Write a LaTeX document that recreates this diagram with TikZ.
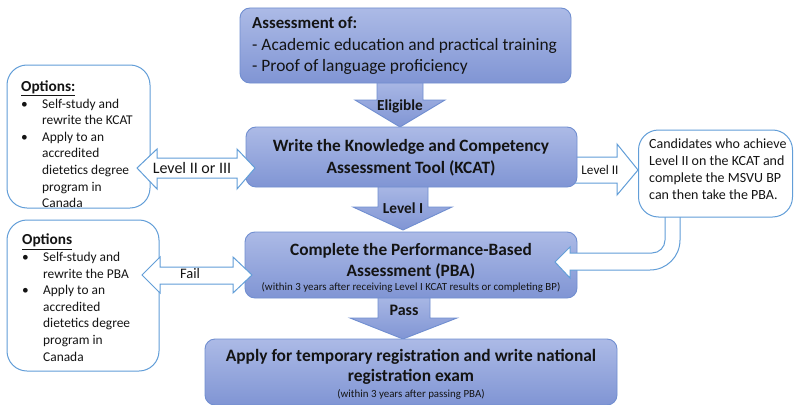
\documentclass[tikz,border=0pt]{standalone}
\usepackage{fontspec}
\setmainfont{Carlito}
\usetikzlibrary{calc}
\definecolor{btop}{RGB}{172,186,230}
\definecolor{bbot}{RGB}{128,149,212}
\definecolor{bline}{RGB}{112,142,208}
\definecolor{oline}{RGB}{98,158,216}
\definecolor{txt}{RGB}{20,20,20}
\begin{document}
\begin{tikzpicture}[x=1pt,y=-1pt,
  bluebox/.style={draw=bline, line width=0.9pt, rounded corners=10pt, top color=btop, bottom color=bbot, inner sep=0pt},
  optbox/.style={draw=oline, line width=1pt, fill=white, rounded corners=20pt, inner sep=0pt},
  bluearrow/.style={draw=bline, line width=0.9pt, top color=btop, bottom color=bbot},
  whitearrow/.style={draw=oline, line width=1pt, fill=white},
  maintxt/.style={text=txt, font=\fontsize{17.3}{21.5}\selectfont\bfseries, align=center, inner sep=0pt},
  notetxt/.style={text=txt, font=\fontsize{10.9}{12}\selectfont, inner sep=0pt},
  opttxt/.style={text=txt, font=\fontsize{13.4}{16.6}\selectfont, align=left, inner sep=0pt, anchor=north west},
  lbl/.style={text=txt, font=\fontsize{14.5}{16}\selectfont, inner sep=0pt},
  blbl/.style={text=txt, font=\fontsize{15.3}{17}\selectfont\bfseries, inner sep=0pt},
]
\useasboundingbox (0,0) rectangle (794,404);
\fill[white] (0,0) rectangle (794,404);

% down arrows (drawn first, boxes cover their ends)
\draw[bluearrow] (377,78) -- (423,78) -- (423,100) -- (445,100) -- (400,127) -- (355,100) -- (377,100) -- cycle;
\draw[bluearrow] (378,182) -- (428,182) -- (428,207) -- (452,207) -- (403,230) -- (353,207) -- (378,207) -- cycle;
\draw[bluearrow] (378,293) -- (430,293) -- (430,318) -- (457,318) -- (403,339) -- (350,318) -- (378,318) -- cycle;

% Level II arrow to the right box
\draw[whitearrow] (570,157) -- (617,157) -- (617,144) -- (638,170) -- (617,195) -- (617,183) -- (570,183) -- cycle;

% boxes
\node[bluebox, minimum width=331pt, minimum height=75pt] (assess) at (405.5,45.5) {};
\node[bluebox, minimum width=331pt, minimum height=60pt] (kcat) at (411.5,157) {};
\node[bluebox, minimum width=332pt, minimum height=66pt] (pba) at (411,265) {};
\node[bluebox, minimum width=412pt, minimum height=66pt] (final) at (411,372) {};
\node[optbox, minimum width=143pt, minimum height=143pt] (opt1) at (78.5,136.5) {};
\node[optbox, minimum width=152pt, minimum height=151pt] (opt2) at (83,295.5) {};

% bent arrow from right box to PBA
\draw[whitearrow] (665,205) -- (665,240) .. controls (665,247.2) and (659.2,253) .. (652,253) -- (570,253) -- (570,247) -- (555,262) -- (570,278) -- (570,270) -- (650,270) .. controls (666.6,270) and (680,256.6) .. (680,240) -- (680,205) -- cycle;
\node[optbox, minimum width=154pt, minimum height=87pt] (cand) at (715.5,173.5) {};

% double arrows
\draw[whitearrow] (137,168) -- (157,149) -- (157,158) -- (237,158) -- (237,149) -- (255,168) -- (237,189) -- (237,178) -- (157,178) -- (157,189) -- cycle;
\draw[whitearrow] (142,275) -- (160,257) -- (160,267) -- (233,267) -- (233,257) -- (252,275) -- (233,293) -- (233,284) -- (160,284) -- (160,293) -- cycle;

% texts
\node[text=txt, anchor=north west, align=left, inner sep=0pt, font=\fontsize{17.4}{21.5}\selectfont] (assesstxt) at (252,17) {{\fontsize{16.8}{21.5}\selectfont\bfseries Assessment of:}\\
- Academic education and practical training\\
- Proof of language proficiency};
\node[maintxt] (kcattxt) at (411,157.5) {Write the Knowledge and Competency\\Assessment Tool (KCAT)};
\node[maintxt] (pbatxt) at (411,261) {Complete the Performance-Based\\Assessment (PBA)};
\node[notetxt] (pbanote) at (411,287.5) {(within 3 years after receiving Level I KCAT results or completing BP)};
\node[maintxt, font=\fontsize{17.4}{20.5}\selectfont\bfseries] (finaltxt) at (411,367) {Apply for temporary registration and write national\\registration exam};
\node[notetxt] (finalnote) at (411,394.5) {(within 3 years after passing PBA)};

\node[opttxt] (opt1txt) at (21,80.5) {{\fontsize{15.3}{16.6}\selectfont\bfseries\underline{Options:}}\\
\makebox[21pt][l]{\textbullet}Self-study and\\
\hspace*{21pt}rewrite the KCAT\\
\makebox[21pt][l]{\textbullet}Apply to an\\
\hspace*{21pt}accredited\\
\hspace*{21pt}dietetics degree\\
\hspace*{21pt}program in\\
\hspace*{21pt}Canada};
\node[opttxt] (opt2txt) at (22,234) {{\fontsize{15.3}{16.6}\selectfont\bfseries\underline{Options}}\\
\makebox[21pt][l]{\textbullet}Self-study and\\
\hspace*{21pt}rewrite the PBA\\
\makebox[21pt][l]{\textbullet}Apply to an\\
\hspace*{21pt}accredited\\
\hspace*{21pt}dietetics degree\\
\hspace*{21pt}program in\\
\hspace*{21pt}Canada};
\node[opttxt, font=\fontsize{14}{16.8}\selectfont] (candtxt) at (649,139) {Candidates who achieve\\Level II on the KCAT and\\complete the MSVU BP\\can then take the PBA.};

\node[lbl, font=\fontsize{16}{18}\selectfont] (l23) at (192,168) {Level II or III};
\node[lbl] (fail) at (190,274) {Fail};
\node[lbl, font=\fontsize{13.2}{14}\selectfont] (l2) at (600,170) {Level II};
\node[blbl] (elig) at (400,106) {Eligible};
\node[blbl] (l1) at (403,208) {Level I};
\node[blbl, font=\fontsize{16}{18}\selectfont\bfseries] (pass) at (404,310) {Pass};
\end{tikzpicture}
\end{document}
